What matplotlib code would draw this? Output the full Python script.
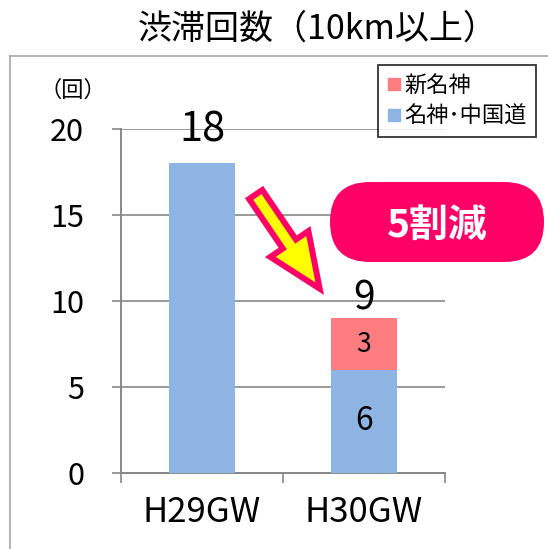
import matplotlib
matplotlib.use('Agg')
import matplotlib.pyplot as plt
from matplotlib.patches import FancyBboxPatch, FancyArrow
from matplotlib.lines import Line2D

plt.rcParams['font.family'] = ['Noto Sans CJK JP', 'DejaVu Sans']

# ---- data ----
categories = ['H29GW', 'H30GW']
meishin_chugoku = [18, 6]      # 名神・中国道
shin_meishin = [0, 3]          # 新名神
totals = [18, 9]
series_names = ['新名神', '名神･中国道']
yticks = [0, 5, 10, 15, 20]
title_text = '渋滞回数（10km以上）'
unit_text = '（回）'
badge_text = '5割減'

# ---- figure ----
W, H = 548, 549
fig = plt.figure(figsize=(W / 100, H / 100), dpi=100)

def fx(px):
    return px / W

def fy(py):
    return 1 - py / H

blue = '#8EB4E3'
red = '#FF7C80'
grid_c = '#878787'

ax = fig.add_axes([fx(121), fy(473), (445 - 121) / W, (473 - 129) / H])
xs = list(range(len(categories)))
bw = 0.41
ax.bar(xs, meishin_chugoku, width=bw, color=blue, zorder=3)
for i, v in enumerate(shin_meishin):
    if v > 0:
        ax.bar(xs[i], v, bottom=meishin_chugoku[i], width=bw, color=red, zorder=3)

ax.set_xlim(-0.5, 1.5)
ax.set_ylim(0, 20)
ax.set_yticks(yticks)
ax.set_yticklabels([str(t) for t in yticks])
ax.yaxis.grid(True, color=grid_c, linewidth=1.2, zorder=0)
ax.set_axisbelow(True)
for s in ['top', 'right']:
    ax.spines[s].set_visible(False)
for s in ['left', 'bottom']:
    ax.spines[s].set_color(grid_c)
    ax.spines[s].set_linewidth(1.4)
ax.tick_params(axis='y', direction='out', length=6.5, width=1.2, color=grid_c,
               labelsize=22, pad=20)
ax.set_xticks([-0.5, 0.5, 1.5])
ax.set_xticklabels([])
ax.set_xticks(xs, minor=True)
ax.set_xticklabels(categories, minor=True)
ax.tick_params(axis='x', which='major', direction='out', length=7.5, width=1.2, color=grid_c)
ax.tick_params(axis='x', which='minor', length=0, labelsize=25, pad=16)

# data labels
ax.annotate(str(totals[0]), xy=(xs[0], totals[0]), xytext=(0, 24), textcoords='offset points',
            ha='center', va='center', fontsize=30)
ax.annotate(str(totals[1]), xy=(xs[1], totals[1]), xytext=(0, 14.5), textcoords='offset points',
            ha='center', va='center', fontsize=28)
ax.text(xs[1], meishin_chugoku[1] + shin_meishin[1] / 2, str(shin_meishin[1]),
        ha='center', va='center', fontsize=19, zorder=4)
ax.text(xs[1], meishin_chugoku[1] / 2, str(meishin_chugoku[1]),
        ha='center', va='center', fontsize=23, zorder=4)

# ---- overlay in pixel coords ----
ov = fig.add_axes([0, 0, 1, 1])
ov.set_xlim(0, W)
ov.set_ylim(H, 0)
ov.axis('off')
ov.patch.set_visible(False)
ov.set_zorder(5)

ov.plot([10, 10], [H, 56], color='#A6A6A6', lw=1.2)
ov.plot([10, W], [56, 56], color='#A6A6A6', lw=1.2)

fig.text(fx(318), fy(29), title_text, ha='center', va='center', fontsize=24.5)
fig.text(fx(73), fy(90), unit_text, ha='center', va='center', fontsize=16)

badge = FancyBboxPatch((330, 182), 214, 80, boxstyle='round,pad=0,rounding_size=40',
                       facecolor='#FF0066', edgecolor='none')
ov.add_patch(badge)
ov.text(437, 225, badge_text, color='white', fontsize=28, fontweight='bold',
        ha='center', va='center')

arrow = FancyArrow(255.7, 194.5, 64, 94.2, width=16, head_width=46, head_length=54,
                   length_includes_head=True, facecolor='#FFFF00', edgecolor='#FF0066',
                   linewidth=4.3, joinstyle='miter')
ov.add_patch(arrow)

handles = [Line2D([], [], marker='s', linestyle='none', markersize=8, color=red),
           Line2D([], [], marker='s', linestyle='none', markersize=8, color=blue)]
leg = fig.legend(handles, series_names, loc='upper right',
                 bbox_to_anchor=(fx(536), fy(65)), bbox_transform=fig.transFigure,
                 fontsize=16, frameon=True, fancybox=False, edgecolor='black',
                 handlelength=0.6, handletextpad=0.2, borderpad=0.4,
                 labelspacing=0.35, borderaxespad=0)
leg.get_frame().set_linewidth(1.3)
leg.set_zorder(10)

fig.savefig('out.png', dpi=100)
